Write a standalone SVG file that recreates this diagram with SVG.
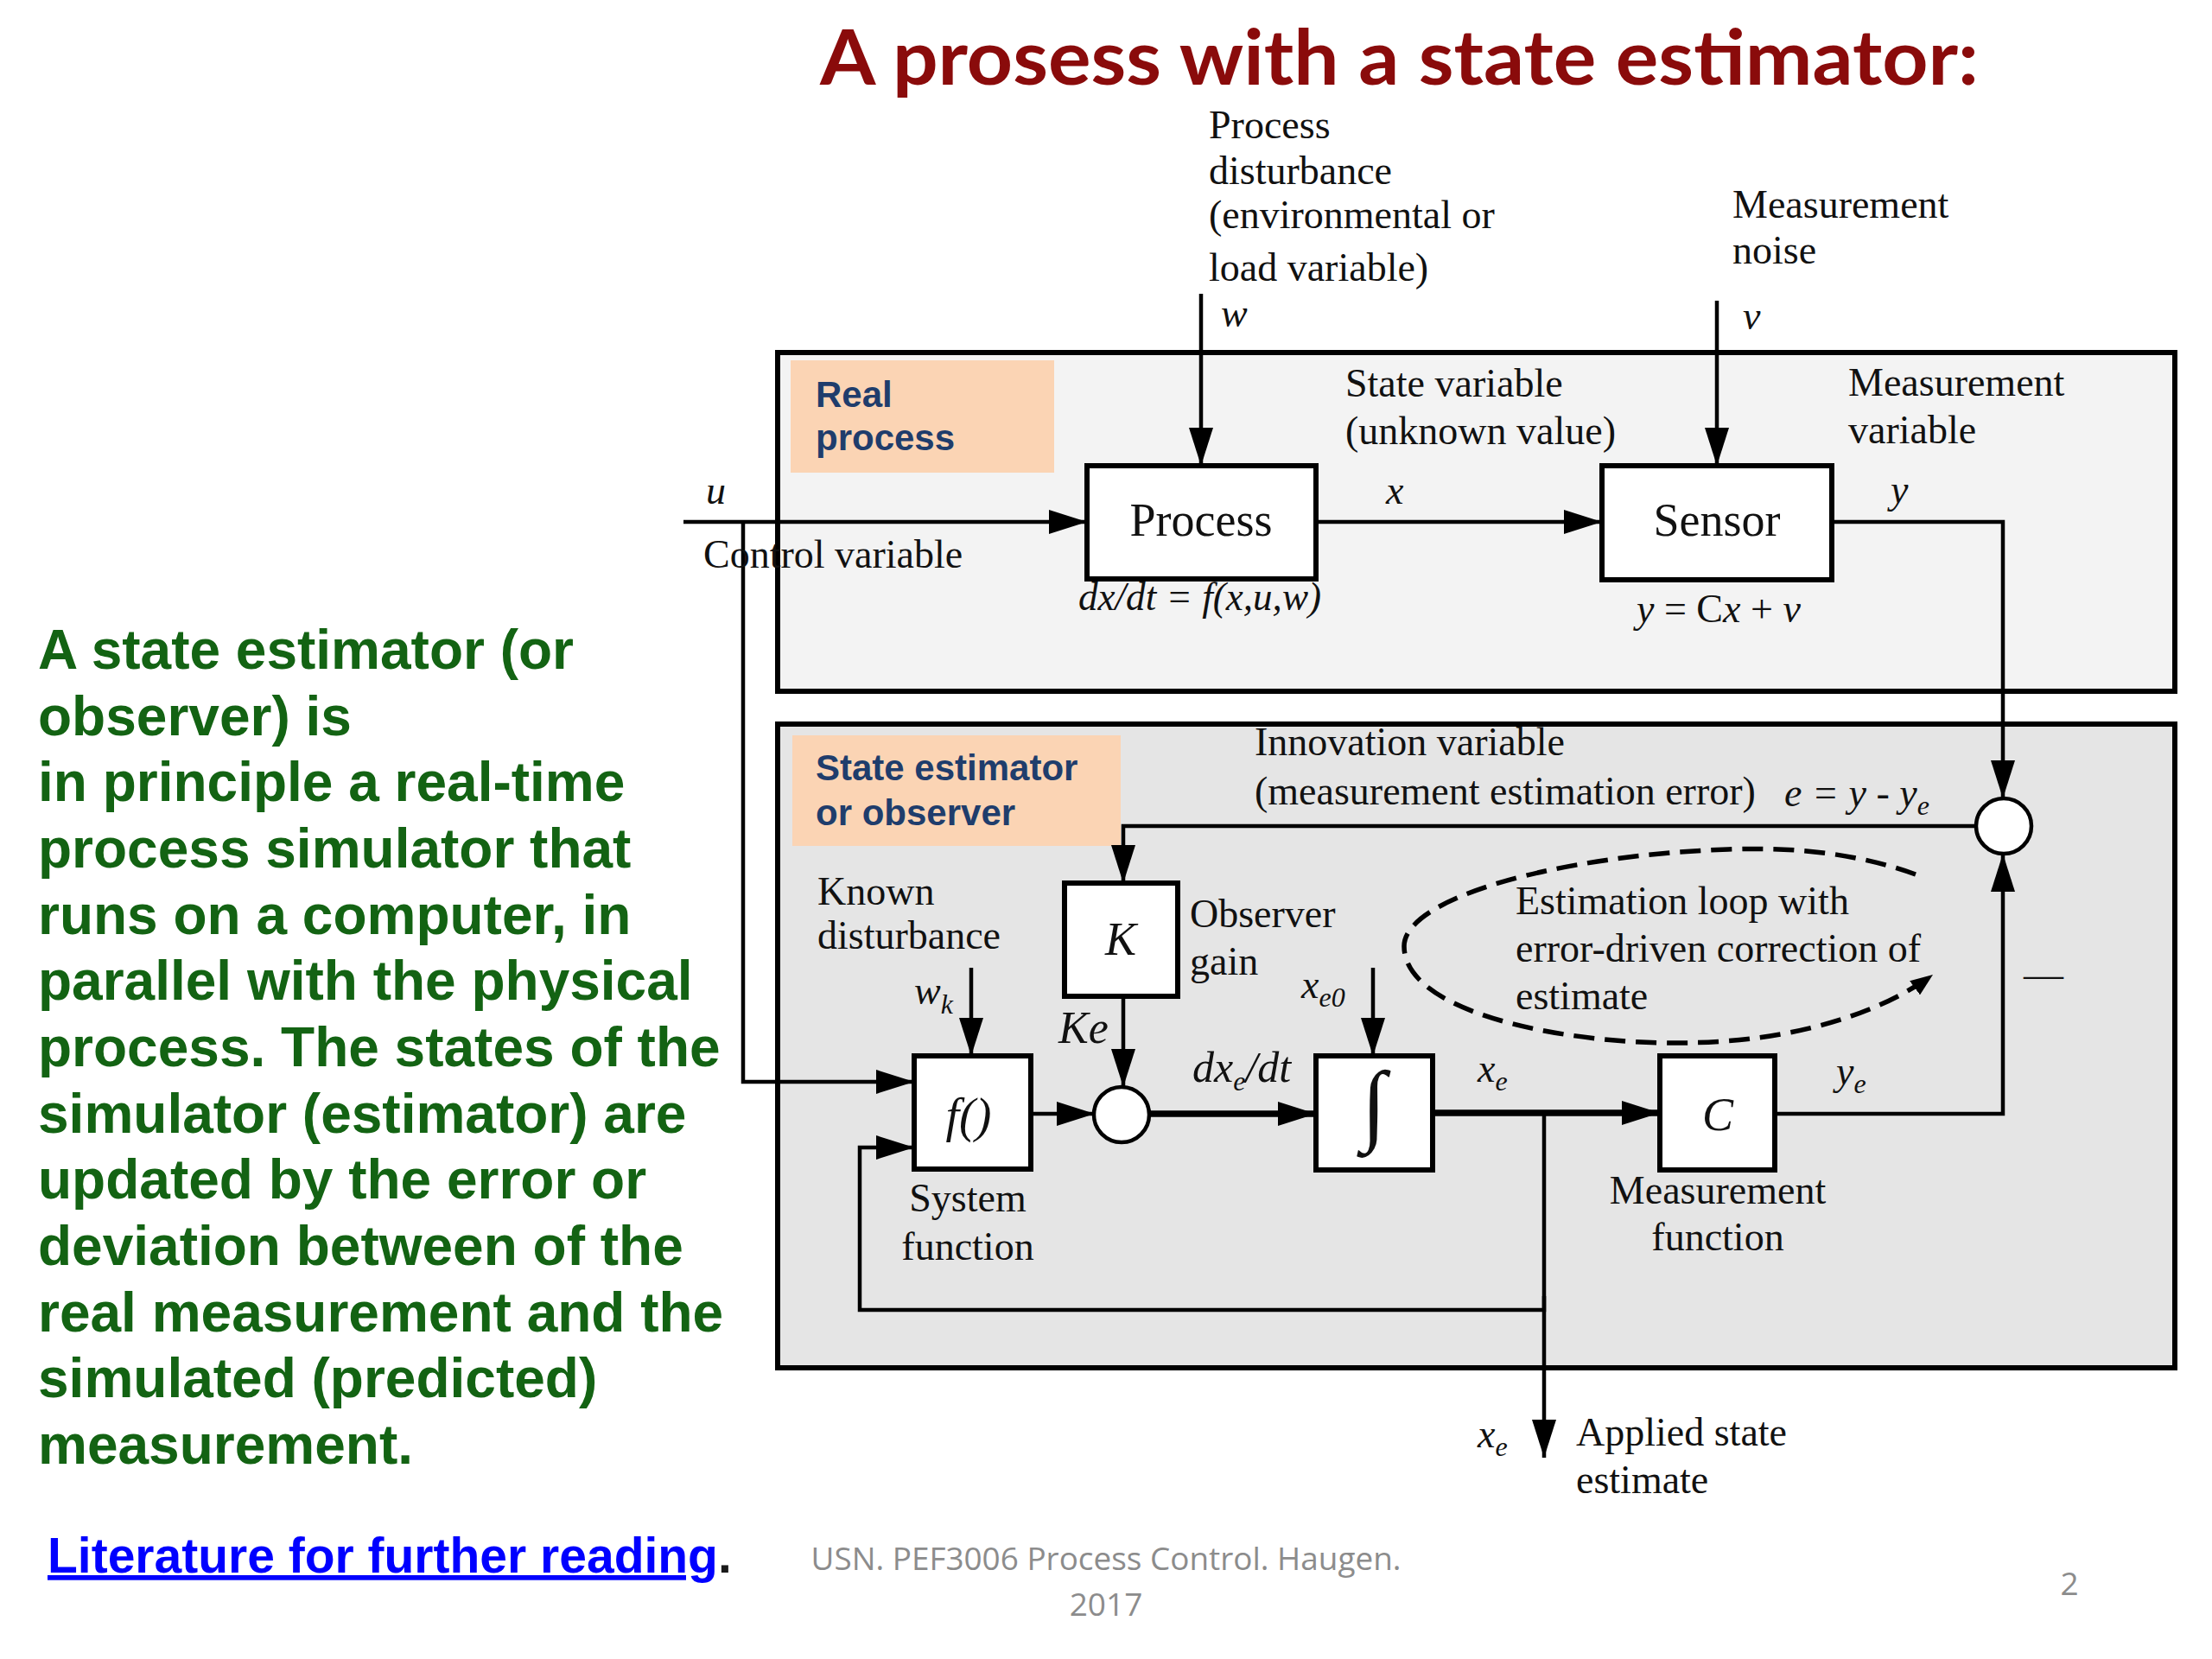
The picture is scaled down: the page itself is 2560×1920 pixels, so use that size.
<svg xmlns="http://www.w3.org/2000/svg" width="2560" height="1920" viewBox="0 0 2560 1920">
<defs>
<style>
.lbl{font-family:"Liberation Serif","Times New Roman",serif;font-size:46px;fill:#111}
.it{font-style:italic}
.big{font-size:54px}
.sub{font-size:32px}
.box{fill:#fff;stroke:#000;stroke-width:6}
.wire{fill:none;stroke:#000;stroke-width:4.5}
.thick{stroke-width:7.5}
.sum{fill:#fff;stroke:#000;stroke-width:4.5}
.tag{font-family:"Liberation Sans",Arial,sans-serif;font-weight:bold;font-size:42px;fill:#1f3d6c}
.tagbg{fill:#fbd4b4}
.green{font-family:"Liberation Sans",Arial,sans-serif;font-weight:bold;font-size:64px;fill:#136313}
.foot{font-family:"Open Sans","Liberation Sans",sans-serif;font-size:37px;fill:#8c8c8c}
</style>
<marker id="arr" viewBox="0 0 44 28" markerWidth="44" markerHeight="28" refX="44" refY="14" orient="auto" markerUnits="userSpaceOnUse">
<path d="M0,0 L44,14 L0,28 z" fill="#000"/>
</marker>
<marker id="arrs" viewBox="0 0 26 20" markerWidth="26" markerHeight="20" refX="26" refY="10" orient="auto" markerUnits="userSpaceOnUse">
<path d="M0,0 L26,10 L0,20 z" fill="#000"/>
</marker>
</defs>
<rect width="2560" height="1920" fill="#fff"/>

<text x="949" y="98" font-family="Lato,'Open Sans',sans-serif" font-weight="bold" font-size="88" fill="#8a0b0b" textLength="1341" lengthAdjust="spacingAndGlyphs">A prosess with a state estimator:</text>

<g id="description">
<text class="green" x="44" y="774">A state estimator (or</text>
<text class="green" x="44" y="851">observer) is</text>
<text class="green" x="44" y="927">in principle a real-time</text>
<text class="green" x="44" y="1004">process simulator that</text>
<text class="green" x="44" y="1081">runs on a computer, in</text>
<text class="green" x="44" y="1157">parallel with the physical</text>
<text class="green" x="44" y="1234">process. The states of the</text>
<text class="green" x="44" y="1311">simulator (estimator) are</text>
<text class="green" x="44" y="1387">updated by the error or</text>
<text class="green" x="44" y="1464">deviation between of the</text>
<text class="green" x="44" y="1541">real measurement and the</text>
<text class="green" x="44" y="1617">simulated (predicted)</text>
<text class="green" x="44" y="1694">measurement.</text>
</g>

<g id="footer">
<text x="55" y="1820" font-family="'Liberation Sans',Arial,sans-serif" font-weight="bold" font-size="57"><tspan fill="#0000ff" text-decoration="underline">Literature for further reading</tspan><tspan fill="#1a1a1a">.</tspan></text>
<text class="foot" x="1280" y="1817" text-anchor="middle" textLength="683" lengthAdjust="spacingAndGlyphs">USN. PEF3006 Process Control. Haugen.</text>
<text class="foot" x="1280" y="1870" text-anchor="middle">2017</text>
<text class="foot" x="2395" y="1846" text-anchor="middle">2</text>
</g>

<g id="real-process">
<rect x="900" y="408" width="1617" height="392" fill="#f3f3f3" stroke="#000" stroke-width="6"/>
<rect class="tagbg" x="915" y="417" width="305" height="130"/>
<text class="tag" x="944" y="471">Real</text>
<text class="tag" x="944" y="521">process</text>
</g>

<g id="state-estimator">
<rect x="900" y="838" width="1617" height="745" fill="#e5e5e5" stroke="#000" stroke-width="6"/>
<rect class="tagbg" x="917" y="851" width="380" height="128"/>
<text class="tag" x="944" y="903">State estimator</text>
<text class="tag" x="944" y="955">or observer</text>
</g>

<g id="connectors">
<line class="wire" x1="1390" y1="340" x2="1390" y2="539" marker-end="url(#arr)"/>
<line class="wire" x1="1987" y1="348" x2="1987" y2="539" marker-end="url(#arr)"/>
<line class="wire" x1="791" y1="604" x2="1258" y2="604" marker-end="url(#arr)"/>
<line class="wire" x1="1523" y1="604" x2="1854" y2="604" marker-end="url(#arr)"/>
<path class="wire" d="M2120 604 H2318 V924" marker-end="url(#arr)"/>
<path class="wire" d="M860 604 V1252 H1058" marker-end="url(#arr)"/>
<path class="wire" d="M2287 956 H1300 V1022" marker-end="url(#arr)"/>
<line class="wire" x1="1300" y1="1153" x2="1300" y2="1258" marker-end="url(#arr)"/>
<line class="wire" x1="1124" y1="1120" x2="1124" y2="1222" marker-end="url(#arr)"/>
<line class="wire" x1="1589" y1="1120" x2="1589" y2="1222" marker-end="url(#arr)"/>
<line class="wire" x1="1193" y1="1289" x2="1267" y2="1289" marker-end="url(#arr)"/>
<line class="wire thick" x1="1330" y1="1289" x2="1523" y2="1289" marker-end="url(#arr)"/>
<line class="wire thick" x1="1658" y1="1288" x2="1921" y2="1288" marker-end="url(#arr)"/>
<path class="wire" d="M1787 1288 V1516 H995 V1328 H1058" marker-end="url(#arr)"/>
<line class="wire" x1="1787" y1="1500" x2="1787" y2="1687" marker-end="url(#arr)"/>
<path class="wire" d="M2054 1289 H2318 V988" marker-end="url(#arr)"/>
<path d="M2217 1012 C2150 988 2080 980 2000 983 C1800 990 1625 1040 1625 1095 C1625 1170 1800 1207 1940 1207 C2080 1207 2180 1170 2237 1128" fill="none" stroke="#000" stroke-width="5.5" stroke-dasharray="24 12" marker-end="url(#arrs)"/>
</g>

<g id="process">
<rect class="box" x="1258" y="539" width="265" height="131"/>
<text class="lbl big" x="1390" y="620" text-anchor="middle">Process</text>
</g>
<g id="sensor">
<rect class="box" x="1854" y="539" width="266" height="132"/>
<text class="lbl big" x="1987" y="620" text-anchor="middle">Sensor</text>
</g>
<g id="gain-K">
<rect class="box" x="1232" y="1022" width="131" height="131"/>
<text class="lbl big it" x="1297" y="1105" text-anchor="middle">K</text>
</g>
<g id="system-function">
<rect class="box" x="1058" y="1222" width="135" height="131"/>
<text class="lbl it" x="1121" y="1310" text-anchor="middle" style="font-size:56px">f()</text>
</g>
<g id="sum-1">
<circle class="sum" cx="1298" cy="1290" r="32"/>
</g>
<g id="integrator">
<rect class="box" x="1523" y="1222" width="135" height="132"/>
<text class="lbl" x="1590" y="1312" text-anchor="middle" style="font-size:104px">∫</text>
</g>
<g id="measurement-function">
<rect class="box" x="1921" y="1222" width="133" height="132"/>
<text class="lbl big it" x="1988" y="1308" text-anchor="middle">C</text>
</g>
<g id="sum-2">
<circle class="sum" cx="2319" cy="956" r="32"/>
</g>

<g id="labels">
<text class="lbl" x="1399" y="160">Process</text>
<text class="lbl" x="1399" y="213">disturbance</text>
<text class="lbl" x="1399" y="264">(environmental or</text>
<text class="lbl" x="1399" y="325">load variable)</text>
<text class="lbl" x="2005" y="252">Measurement</text>
<text class="lbl" x="2005" y="305">noise</text>
<text class="lbl it" x="1413" y="378">w</text>
<text class="lbl it" x="2017" y="381">v</text>
<text class="lbl it" x="817" y="583">u</text>
<text class="lbl" x="814" y="657">Control variable</text>
<text class="lbl it" x="1248" y="706" textLength="281" lengthAdjust="spacingAndGlyphs">dx/dt = f(x,u,w)</text>
<text class="lbl it" x="1604" y="583">x</text>
<text class="lbl" x="1557" y="459">State variable</text>
<text class="lbl" x="1557" y="514">(unknown value)</text>
<text class="lbl" x="2139" y="458">Measurement</text>
<text class="lbl" x="2139" y="513">variable</text>
<text class="lbl it" x="2188" y="582">y</text>
<text class="lbl" x="1894" y="720"><tspan class="it">y</tspan> = C<tspan class="it">x</tspan> + <tspan class="it">v</tspan></text>
<text class="lbl" x="1452" y="874">Innovation variable</text>
<text class="lbl" x="1452" y="931">(measurement estimation error)</text>
<text class="lbl it" x="2065" y="933">e = y - y<tspan class="sub" dy="10">e</tspan></text>
<text class="lbl" x="1377" y="1073">Observer</text>
<text class="lbl" x="1377" y="1128">gain</text>
<text class="lbl" x="946" y="1047">Known</text>
<text class="lbl" x="946" y="1098">disturbance</text>
<text class="lbl it" x="1058" y="1162">w<tspan class="sub" dy="11">k</tspan></text>
<text class="lbl it" x="1225" y="1207" style="font-size:52px">Ke</text>
<text class="lbl it" x="1380" y="1252" style="font-size:50px">dx<tspan class="sub" dy="10">e</tspan><tspan dy="-10">/dt</tspan></text>
<text class="lbl it" x="1506" y="1155">x<tspan class="sub" dy="10">e0</tspan></text>
<text class="lbl it" x="1710" y="1252">x<tspan class="sub" dy="10">e</tspan></text>
<text class="lbl it" x="2125" y="1255">y<tspan class="sub" dy="10">e</tspan></text>
<text class="lbl" x="1754" y="1058">Estimation loop with</text>
<text class="lbl" x="1754" y="1113">error-driven correction of</text>
<text class="lbl" x="1754" y="1168">estimate</text>
<text class="lbl" x="2342" y="1143">—</text>
<text class="lbl" x="1120" y="1402" text-anchor="middle">System</text>
<text class="lbl" x="1120" y="1458" text-anchor="middle">function</text>
<text class="lbl" x="1988" y="1393" text-anchor="middle">Measurement</text>
<text class="lbl" x="1988" y="1447" text-anchor="middle">function</text>
<text class="lbl it" x="1710" y="1675">x<tspan class="sub" dy="10">e</tspan></text>
<text class="lbl" x="1824" y="1673">Applied state</text>
<text class="lbl" x="1824" y="1728">estimate</text>
</g>
</svg>
